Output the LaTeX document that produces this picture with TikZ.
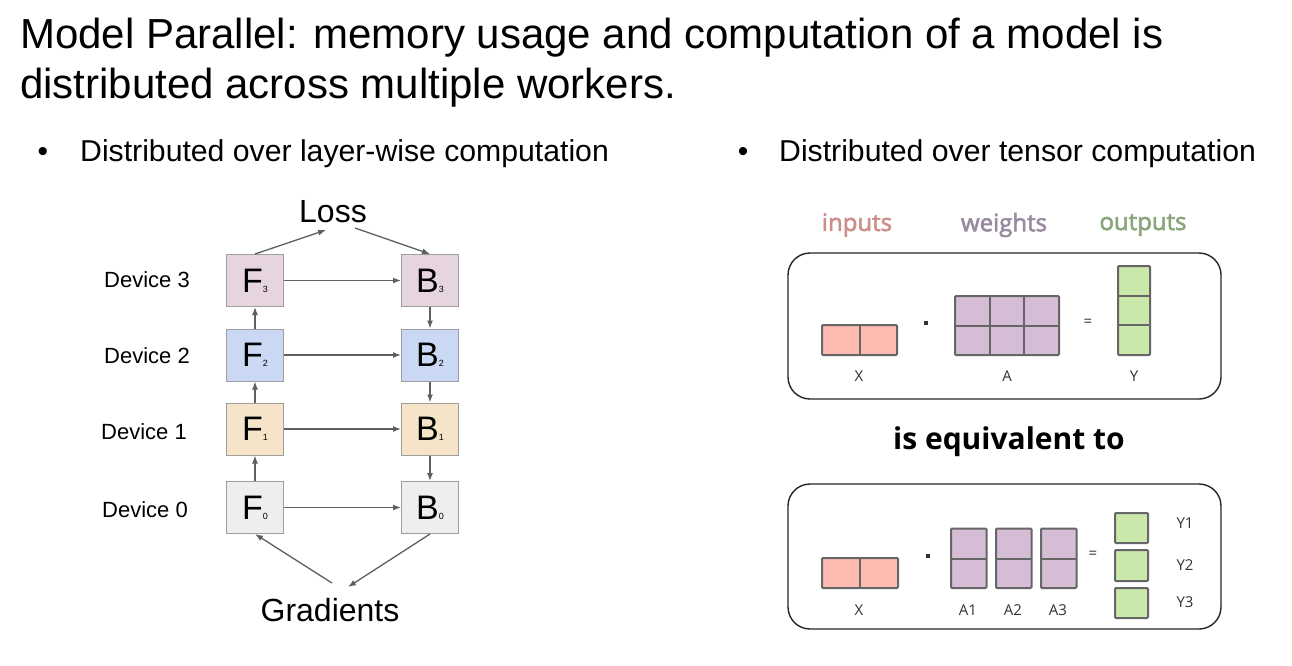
\documentclass[tikz,border=0pt]{standalone}
\usepackage{fontspec}
\setmainfont{Liberation Sans}
\newfontfamily\osans{Open Sans}
\newfontfamily\osemi[FakeBold=2.5]{Open Sans}
\usetikzlibrary{arrows.meta}
\definecolor{boxgray}{HTML}{9E9E9E}
\definecolor{arrgray}{HTML}{5F5F5F}
\definecolor{cF3}{HTML}{E6D4DF}
\definecolor{cF2}{HTML}{CAD8F4}
\definecolor{cF1}{HTML}{F6E4C8}
\definecolor{cF0}{HTML}{EEEEEE}
\definecolor{cX}{HTML}{FFBBB2}
\definecolor{cA}{HTML}{D5BDD6}
\definecolor{cY}{HTML}{C9E8A9}
\definecolor{cellline}{HTML}{666666}
\definecolor{tin}{HTML}{CD8F89}
\definecolor{twt}{HTML}{9A8AA0}
\definecolor{tout}{HTML}{8AA67A}
\newcommand{\fsz}[1]{\fontsize{#1}{#1}\selectfont}
\newcommand{\blk}[2]{{\fsz{34}#1}{\fsz{9}#2}}
\tikzset{
  devbox/.style={draw=boxgray, line width=1pt, minimum width=57pt, minimum height=52pt, inner sep=0pt},
  arr/.style={-{Latex[length=8pt,width=6pt]}, draw=arrgray, line width=1.3pt},
  devlabel/.style={font=\fsz{22}, anchor=center},
  bigtxt/.style={font=\fsz{32}},
  cell/.style={draw=cellline, line width=2pt, rounded corners=1pt},
  panel/.style={draw=black!85, line width=1.4pt, rounded corners=22pt},
  small/.style={font=\osans\fsz{15}, text=black!80},
  head/.style={font=\osemi\fsz{24}},
  dotmark/.style={fill=black!80, inner sep=0pt, minimum size=3.5pt},
}
\begin{document}
\begin{tikzpicture}[x=1pt,y=-1pt]
\useasboundingbox[fill=white] (0,0) rectangle (1292,665);

% Title
\node[anchor=base west, inner sep=0pt, font=\fsz{42}] (t1) at (20,48) {Model Parallel: memory usage and computation of a model is};
\node[anchor=base west, inner sep=0pt, font=\fsz{42}] (t2) at (20,98) {distributed across multiple workers.};

% Bullets
\node[anchor=base, inner sep=0pt, font=\fsz{30}] (b1) at (43,161) {•};
\node[anchor=base west, inner sep=0pt, font=\fsz{30.2}] (b1t) at (80,161) {Distributed over layer-wise computation};
\node[anchor=base, inner sep=0pt, font=\fsz{30}] (b2) at (743,161) {•};
\node[anchor=base west, inner sep=0pt, font=\fsz{30.2}] (b2t) at (779,161) {Distributed over tensor computation};

% Left diagram
\node[devbox, fill=cF3] (F3) at (255,280.5) {\blk{F}{3}};
\node[devbox, fill=cF2] (F2) at (255,355) {\blk{F}{2}};
\node[devbox, fill=cF1] (F1) at (255,429) {\blk{F}{1}};
\node[devbox, fill=cF0] (F0) at (255,507.5) {\blk{F}{0}};
\node[devbox, fill=cF3] (B3) at (430,280.5) {\blk{B}{3}};
\node[devbox, fill=cF2] (B2) at (430,355) {\blk{B}{2}};
\node[devbox, fill=cF1] (B1) at (430,429) {\blk{B}{1}};
\node[devbox, fill=cF0] (B0) at (430,507.5) {\blk{B}{0}};

\node[devlabel] (d3) at (147,280) {Device 3};
\node[devlabel] (d2) at (147,356) {Device 2};
\node[devlabel] (d1) at (144,432) {Device 1};
\node[devlabel] (d0) at (145,510) {Device 0};

\node[bigtxt, inner sep=0pt] (loss) at (333,212) {Loss};
\node[bigtxt, inner sep=0pt] (grad) at (330,610) {Gradients};

\coordinate (lossL) at (326,230);
\coordinate (lossR) at (355,228);
\coordinate (gradL) at (332,583);
\coordinate (gradR) at (348,587);

\draw[arr] (F3.north) -- (lossL);
\draw[arr] (lossR) -- (B3.north);
\draw[arr] (F0.north) -- (F1.south);
\draw[arr] (F1.north) -- (F2.south);
\draw[arr] (F2.north) -- (F3.south);
\draw[arr] (B3.south) -- (B2.north);
\draw[arr] (B2.south) -- (B1.north);
\draw[arr] (B1.south) -- (B0.north);
\draw[arr] (F3.east) -- (B3.west);
\draw[arr] (F2.east) -- (B2.west);
\draw[arr] (F1.east) -- (B1.west);
\draw[arr] (F0.east) -- (B0.west);
\draw[arr] (gradL) -- (F0.south);
\draw[arr] (B0.south) -- (gradR);

% Right diagram headers
\node[head, text=tin] (hin) at (857,225) {inputs};
\node[head, text=twt] (hwt) at (1004,225) {weights};
\node[head, text=tout] (hout) at (1143,225) {outputs};

% Panel 1
\node[panel, minimum width=433pt, minimum height=146pt] (p1) at (1004.5,326) {};
\draw[cell, fill=cX] (822,325) rectangle (897,355);
\draw[cellline, line width=2pt] (859.5,325) -- (859.5,355);
\node[small] (lx1) at (859,376) {X};
\node[dotmark] (dot1) at (926,323) {};
\draw[cell, fill=cA] (955,296) rectangle (1059,355);
\draw[cellline, line width=2pt] (989.7,296) -- (989.7,355) (1024.3,296) -- (1024.3,355) (955,325.5) -- (1059,325.5);
\node[small] (la1) at (1007,376) {A};
\node[small] (eq1) at (1088,323) {=};
\draw[cell, fill=cY] (1118,266) rectangle (1150,355);
\draw[cellline, line width=2pt] (1118,295.7) -- (1150,295.7) (1118,325.3) -- (1150,325.3);
\node[small] (ly1) at (1134,376) {Y};

\node[font=\osans\bfseries\fsz{30}] (equiv) at (1009,442) {is equivalent to};

% Panel 2
\node[panel, minimum width=433pt, minimum height=145pt] (p2) at (1004.5,556.5) {};
\draw[cell, fill=cX] (822,558) rectangle (898,588);
\draw[cellline, line width=2pt] (860,558) -- (860,588);
\node[small] (lx2) at (859,610) {X};
\node[dotmark] (dot2) at (928,556) {};
\foreach \x/\n in {951/1,996/2,1041/3}{
  \draw[cell, fill=cA] (\x,528.5) rectangle ({\x+35.5},588);
  \draw[cellline, line width=2pt] (\x,559) -- ({\x+35.5},559);
}
\node[small] (la21) at (968,610) {A1};
\node[small] (la22) at (1013,610) {A2};
\node[small] (la23) at (1058,610) {A3};
\node[small] (eq2) at (1093,555) {=};
\draw[cell, fill=cY] (1115,513) rectangle (1148,543);
\draw[cell, fill=cY] (1115,550) rectangle (1148,581);
\draw[cell, fill=cY] (1115,588) rectangle (1148,618);
\node[small] (ly21) at (1185,523) {Y1};
\node[small] (ly22) at (1185,565) {Y2};
\node[small] (ly23) at (1185,602) {Y3};
\end{tikzpicture}
\end{document}
